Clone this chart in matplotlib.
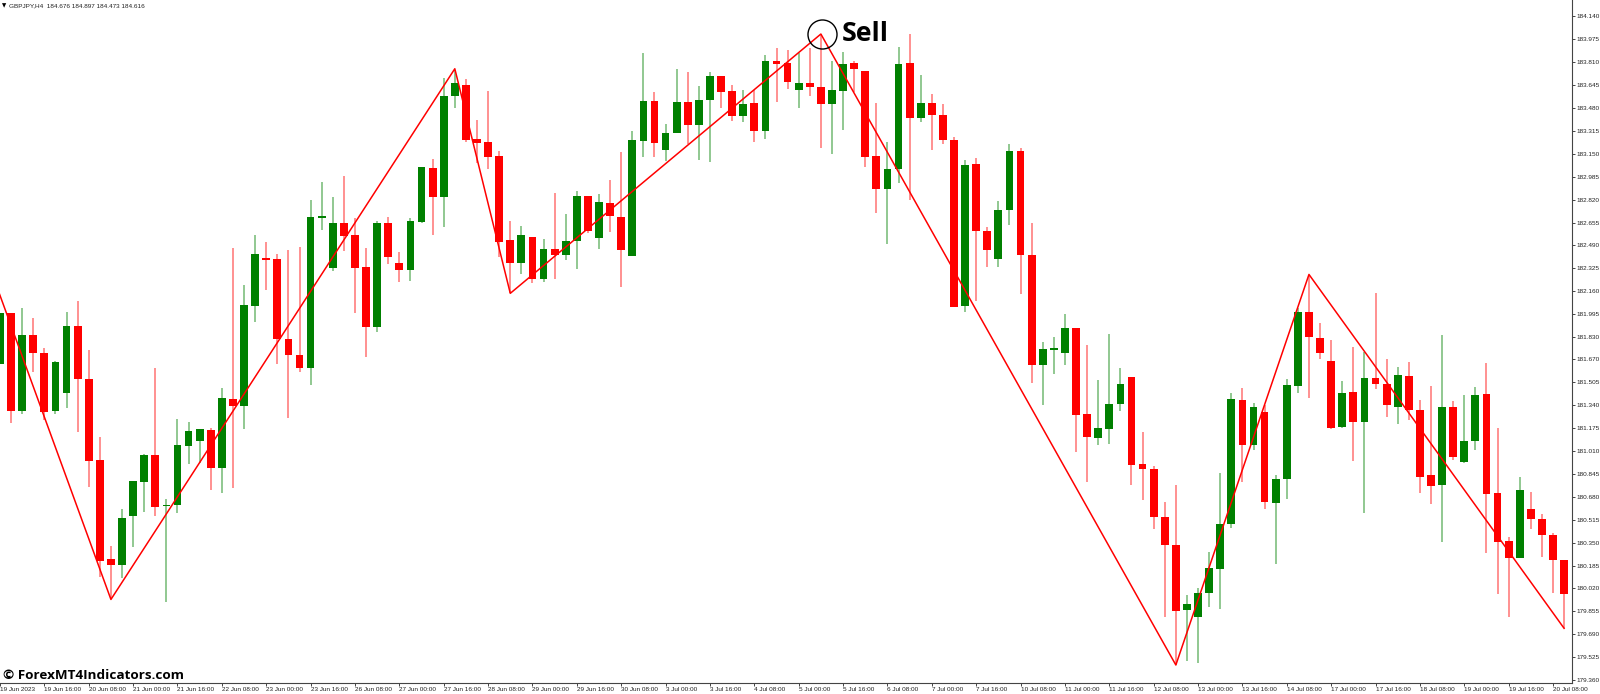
import matplotlib
matplotlib.use('Agg')
import matplotlib.pyplot as plt
import numpy as np

opens = [181.634, 182.001, 181.300, 181.845, 181.718, 181.296, 181.425, 181.910, 181.528, 180.945,
         180.230, 180.189, 180.542, 180.787, 180.983, 180.612, 180.621, 181.046, 181.082, 181.159,
         180.885, 181.384, 181.332, 182.056, 182.397, 182.390, 181.818, 181.699, 181.607, 182.690,
         182.325, 182.654, 182.563, 182.332, 181.905, 182.654, 182.361, 182.315, 182.659, 183.045,
         182.841, 183.564, 183.643, 183.256, 183.232, 183.134, 182.529, 182.366, 182.548, 182.246,
         182.466, 182.421, 182.524, 182.848, 182.541, 182.795, 182.697, 182.414, 183.240, 183.528,
         183.179, 183.299, 183.520, 183.359, 183.539, 183.708, 183.602, 183.424, 183.515, 183.316,
         183.820, 183.806, 183.609, 183.657, 183.631, 183.510, 183.604, 183.801, 183.746, 183.134,
         182.894, 183.040, 183.801, 183.410, 183.515, 183.431, 183.251, 182.056, 183.076, 182.596,
         182.390, 182.745, 183.168, 182.421, 181.631, 181.739, 181.718, 181.893, 181.276, 181.106,
         181.166, 181.346, 181.540, 180.916, 180.878, 180.535, 180.333, 179.863, 179.812, 179.987,
         180.158, 180.482, 181.375, 181.055, 181.288, 180.638, 180.808, 181.480, 182.013, 181.821,
         181.658, 181.183, 181.435, 181.221, 181.538, 181.492, 181.327, 181.552, 181.307, 180.835,
         180.767, 181.324, 180.931, 181.082, 181.418, 180.707, 180.360, 180.237, 180.590, 180.518,
         180.403, 180.223]
highs = [182.001, 182.001, 182.037, 181.965, 181.749, 181.658, 182.013, 182.090, 181.737, 181.113,
         180.326, 180.590, 180.794, 180.986, 181.605, 180.662, 181.240, 181.219, 181.168, 181.173,
         181.461, 182.469, 182.205, 182.565, 182.512, 182.428, 182.457, 182.479, 182.817, 182.947,
         182.839, 182.992, 182.687, 182.474, 182.668, 182.697, 182.445, 182.687, 183.057, 183.112,
         183.698, 183.753, 183.690, 183.393, 183.602, 183.172, 182.666, 182.632, 182.553, 182.534,
         182.865, 182.716, 182.882, 182.848, 182.860, 182.961, 183.163, 183.314, 183.878, 183.597,
         183.362, 183.758, 183.739, 183.638, 183.739, 183.712, 183.645, 183.607, 183.609, 183.861,
         183.911, 183.897, 183.878, 183.911, 184.012, 183.816, 183.885, 183.820, 183.746, 183.513,
         183.237, 183.916, 184.012, 183.717, 183.578, 183.508, 183.273, 183.105, 183.117, 182.620,
         182.808, 183.220, 183.189, 182.649, 181.792, 181.833, 181.996, 181.898, 181.773, 181.521,
         181.852, 181.607, 181.540, 181.149, 180.904, 180.645, 180.765, 179.973, 180.026, 180.280,
         180.849, 181.430, 181.463, 181.358, 181.341, 180.837, 181.526, 182.037, 182.277, 181.929,
         181.809, 181.512, 181.756, 181.725, 182.150, 181.670, 181.612, 181.653, 181.377, 181.478,
         181.843, 181.370, 181.413, 181.473, 181.641, 181.173, 180.391, 180.825, 180.715, 180.556,
         180.419, 180.223]
lows = [181.634, 181.214, 181.276, 181.581, 181.233, 181.276, 181.317, 181.149, 180.753, 180.105,
        179.949, 180.095, 180.321, 180.573, 180.542, 179.923, 180.561, 180.914, 180.921, 180.729,
        180.705, 180.741, 181.166, 181.941, 182.169, 181.636, 181.245, 181.581, 181.485, 182.601,
        182.306, 182.450, 182.003, 181.687, 181.869, 182.356, 182.229, 182.236, 182.654, 182.565,
        182.620, 183.479, 183.237, 183.081, 183.042, 182.409, 182.145, 182.284, 182.217, 182.224,
        182.246, 182.385, 182.320, 182.577, 182.464, 182.584, 182.193, 182.414, 183.124, 183.124,
        183.100, 183.299, 183.220, 183.105, 183.093, 183.482, 183.388, 183.376, 183.235, 183.258,
        183.520, 183.614, 183.479, 183.568, 183.194, 183.148, 183.319, 183.597, 183.057, 182.726,
        182.500, 182.939, 182.817, 183.381, 183.175, 183.218, 182.049, 182.008, 182.092, 182.335,
        182.335, 182.639, 182.140, 181.502, 181.341, 181.564, 181.627, 181.000, 180.789, 181.055,
        181.060, 181.298, 180.765, 180.657, 180.448, 179.812, 179.469, 179.500, 179.486, 179.889,
        179.872, 180.458, 180.789, 181.017, 180.594, 180.196, 180.662, 181.430, 181.389, 181.670,
        181.170, 181.178, 180.936, 180.566, 181.456, 181.255, 181.202, 181.235, 180.705, 180.630,
        180.357, 180.943, 180.926, 181.015, 180.278, 179.982, 179.817, 180.237, 180.450, 180.249,
        179.990, 179.733]
closes = [182.001, 181.300, 181.845, 181.715, 181.293, 181.653, 181.910, 181.530, 180.938, 180.220,
          180.191, 180.530, 180.794, 180.983, 180.609, 180.619, 181.053, 181.154, 181.166, 180.885,
          181.389, 181.336, 182.059, 182.428, 182.385, 181.818, 181.701, 181.610, 182.692, 182.702,
          182.654, 182.560, 182.330, 181.905, 182.654, 182.409, 182.315, 182.666, 183.055, 182.841,
          183.566, 183.662, 183.249, 183.230, 183.129, 182.517, 182.366, 182.563, 182.250, 182.466,
          182.419, 182.522, 182.846, 182.594, 182.803, 182.700, 182.455, 183.251, 183.528, 183.225,
          183.302, 183.520, 183.359, 183.537, 183.712, 183.595, 183.424, 183.510, 183.316, 183.820,
          183.798, 183.664, 183.662, 183.628, 183.510, 183.607, 183.796, 183.762, 183.129, 182.894,
          183.040, 183.796, 183.410, 183.515, 183.429, 183.249, 182.049, 183.067, 182.596, 182.455,
          182.747, 183.168, 182.423, 181.631, 181.742, 181.751, 181.898, 181.269, 181.108, 181.175,
          181.345, 181.492, 180.909, 180.878, 180.537, 180.331, 179.860, 179.906, 179.990, 180.165,
          180.484, 181.382, 181.055, 181.327, 180.643, 180.808, 181.483, 182.008, 181.833, 181.718,
          181.175, 181.427, 181.221, 181.538, 181.490, 181.341, 181.557, 181.305, 180.825, 180.760,
          181.324, 180.967, 181.082, 181.413, 180.702, 180.357, 180.237, 180.729, 180.518, 180.403,
          180.223, 179.978]

zigzag_bars = [-1, 10, 41, 46, 74, 106, 118, 141]
zigzag_prices = [182.349, 179.941, 183.762, 182.145, 184.012, 179.469, 182.281, 179.733]

price_labels = ['184.140', '183.975', '183.810', '183.645', '183.480', '183.315', '183.150', '182.985',
                '182.820', '182.655', '182.490', '182.325', '182.160', '181.995', '181.830', '181.670',
                '181.505', '181.340', '181.175', '181.010', '180.845', '180.680', '180.515', '180.350',
                '180.185', '180.020', '179.855', '179.690', '179.525', '179.360']
date_labels = ['19 Jun 2023', '19 Jun 16:00', '20 Jun 08:00', '21 Jun 00:00', '21 Jun 16:00', '22 Jun 08:00',
               '23 Jun 00:00', '23 Jun 16:00', '26 Jun 08:00', '27 Jun 00:00', '27 Jun 16:00', '28 Jun 08:00',
               '29 Jun 00:00', '29 Jun 16:00', '30 Jun 08:00', '3 Jul 00:00', '3 Jul 16:00', '4 Jul 08:00',
               '5 Jul 00:00', '5 Jul 16:00', '6 Jul 08:00', '7 Jul 00:00', '7 Jul 16:00', '10 Jul 08:00',
               '11 Jul 00:00', '11 Jul 16:00', '12 Jul 08:00', '13 Jul 00:00', '13 Jul 16:00', '14 Jul 08:00',
               '17 Jul 00:00', '17 Jul 16:00', '18 Jul 08:00', '19 Jul 00:00', '19 Jul 16:00', '20 Jul 08:00']
header = 'GBPJPY,H4  184.676 184.897 184.473 184.616'

plt.rcParams['font.family'] = ['Liberation Sans', 'DejaVu Sans']

fig = plt.figure(figsize=(16, 6.94), dpi=100)
ax = fig.add_axes([0, 1 - 682.5 / 694, 1572 / 1600, 682.5 / 694])
ax.set_xlim(1 / 11.1, 1573 / 11.1)
ax.set_ylim(179.343, 184.257)

o = np.array(opens)
c = np.array(closes)
x = np.arange(len(o))
colors = np.where(c >= o, '#008000', '#ff0000')

# wicks first, bodies on top
ax.vlines(x, lows, highs, colors=colors, linewidth=1.1, alpha=0.55, zorder=2)
ax.bar(x, np.abs(c - o), bottom=np.minimum(o, c), width=0.7, color=colors, linewidth=0, zorder=3)

ax.plot(zigzag_bars, zigzag_prices, color='#ff0000', linewidth=1.1, zorder=4)

# the Sell marker sits on the top of the zigzag
ax.plot([74.14], [184.012], marker='o', markersize=20.9, markerfacecolor='none',
        markeredgecolor='black', markeredgewidth=1.0, zorder=5, clip_on=False)
ax.text(75.9, 184.012, 'Sell', fontsize=19.2, fontweight='bold', family='Open Sans',
        color='black', ha='left', va='center', zorder=6)

ax.spines['top'].set_visible(False)
ax.spines['left'].set_visible(False)
ax.spines['right'].set_color('#444444')
ax.spines['bottom'].set_color('#444444')
ax.spines['right'].set_linewidth(0.8)
ax.spines['bottom'].set_linewidth(0.8)

ax.yaxis.tick_right()
ax.set_yticks([float(p) for p in price_labels])
ax.set_yticklabels(price_labels)
ax.set_xticks(np.arange(len(date_labels)) * 4)
ax.set_xticklabels(date_labels, ha='left')
ax.tick_params(axis='both', length=2, width=0.7, color='#444444', labelsize=4.6,
               labelcolor='#222222', pad=1.5)

fig.text(9.3 / 1600, 1 - 5.7 / 694, header, fontsize=4.6, color='#222222', ha='left', va='center')
fig.text(1.5 / 1600, 1 - 5.7 / 694, '▼', fontsize=4, color='black', ha='left', va='center',
         family='DejaVu Sans')
fig.text(3 / 1600, 1 - 675.5 / 694, '© ForexMT4Indicators.com', fontsize=9.7, fontweight='bold',
         family='Open Sans', color='black', ha='left', va='center')

plt.savefig('out.png', dpi=100, facecolor='white')
